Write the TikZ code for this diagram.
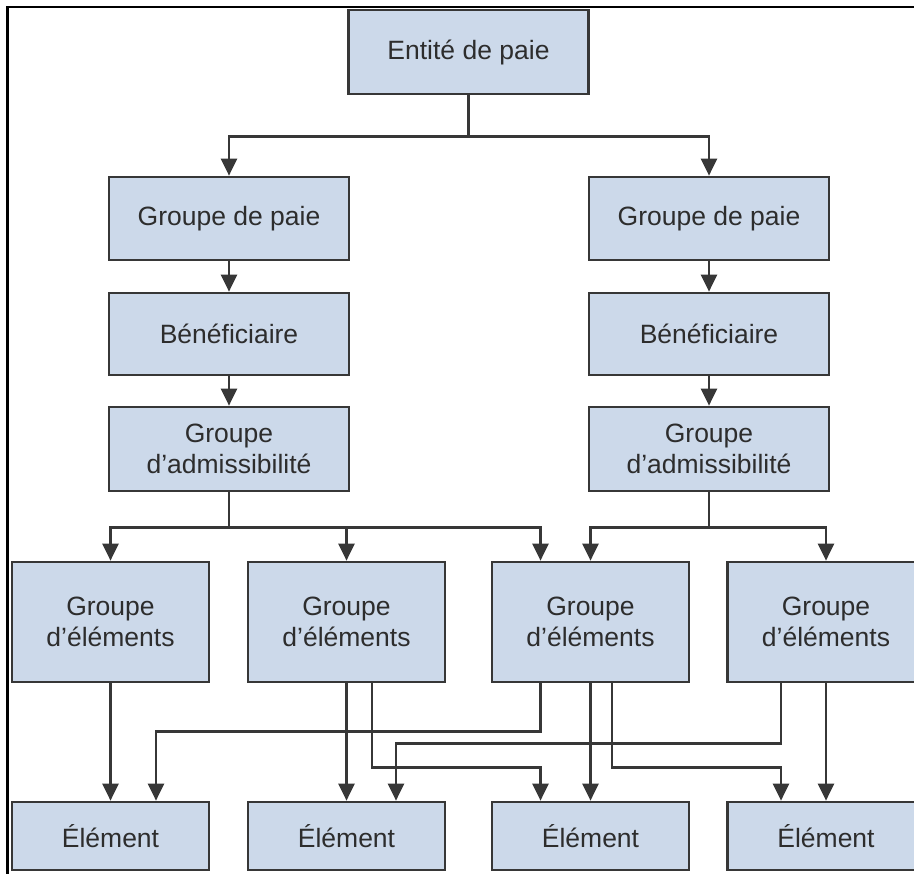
\documentclass[tikz,border=0pt]{standalone}
\usepackage{fontspec}
\setmainfont{Liberation Sans}
\usetikzlibrary{arrows.meta}
\definecolor{boxfill}{RGB}{204,217,234}
\definecolor{boxline}{RGB}{55,55,55}
\definecolor{txt}{RGB}{45,45,45}
\tikzset{
  box/.style={draw=boxline, fill=boxfill, line width=2.7pt, rectangle, inner sep=0pt,
    align=center, text=txt, font=\fontsize{26.5}{31.5}\selectfont},
  bigbox/.style={box, minimum width=240pt},
  smallbox/.style={box, minimum width=197pt},
  arr/.style={draw=boxline, line width=2.6pt, -{Triangle[length=17pt,width=16pt]}},
  ln/.style={draw=boxline, line width=2.6pt}
}
\begin{document}
\begin{tikzpicture}[x=1pt,y=-1pt]
\useasboundingbox (0,0) rectangle (914,874);
\clip (0,0) rectangle (914,874);
\fill[white] (0,0) rectangle (914,874);
\draw[black, line width=2.2pt] (7.5,880) -- (7.5,6.7) -- (920,6.7);

\node[bigbox, minimum height=84pt] (entite) at (468.5,52) {Entité de paie};
\node[bigbox, minimum height=83pt] (gp1) at (229,218.5) {Groupe de paie};
\node[bigbox, minimum height=83pt] (gp2) at (709,218.5) {Groupe de paie};
\node[bigbox, minimum height=82pt] (ben1) at (229,334) {Bénéficiaire};
\node[bigbox, minimum height=82pt] (ben2) at (709,334) {Bénéficiaire};
\node[bigbox, minimum height=84pt] (ad1) at (229,449) {Groupe\\d’admissibilité};
\node[bigbox, minimum height=84pt] (ad2) at (709,449) {Groupe\\d’admissibilité};

\node[smallbox, minimum height=120pt] (ge1) at (110.5,622) {Groupe\\d'éléments};
\node[smallbox, minimum height=120pt] (ge2) at (346.5,622) {Groupe\\d'éléments};
\node[smallbox, minimum height=120pt] (ge3) at (590.5,622) {Groupe\\d'éléments};
\node[smallbox, minimum height=120pt] (ge4) at (826,622) {Groupe\\d'éléments};

\node[smallbox, minimum height=68pt] (e1) at (110.5,836) {Élément};
\node[smallbox, minimum height=68pt] (e2) at (346.5,836) {Élément};
\node[smallbox, minimum height=68pt] (e3) at (590.5,836) {Élément};
\node[smallbox, minimum height=68pt] (e4) at (826,836) {Élément};

% top level
\draw[arr] (entite.south) -- ++(0,41) -| (gp1.north);
\draw[arr] (entite.south) -- ++(0,41) -| (gp2.north);
\draw[arr] (gp1) -- (ben1);
\draw[arr] (gp2) -- (ben2);
\draw[arr] (ben1) -- (ad1);
\draw[arr] (ben2) -- (ad2);

% admissibility to element groups
\draw[arr] (ad1.south) -- ++(0,35) -| (ge1.north);
\draw[arr] (ad1.south) -- ++(0,35) -| (ge2.north);
\draw[arr] (ad1.south) -- ++(0,35) -| ([xshift=-50pt]ge3.north);
\draw[arr] (ad2.south) -- ++(0,35) -| (ge3.north);
\draw[arr] (ad2.south) -- ++(0,35) -| (ge4.north);

% element groups to elements
\draw[arr] (ge1) -- (e1);
\draw[arr] (ge2) -- (e2);
\draw[arr] (ge3) -- (e3);
\draw[arr] (ge4) -- (e4);
\draw[arr] ([xshift=-50pt]ge3.south) -- ++(0,48) -| ([xshift=45.5pt]e1.north);
\draw[arr] ([xshift=-45pt]ge4.south) -- ++(0,60) -| ([xshift=49.5pt]e2.north);
\draw[arr] ([xshift=25.5pt]ge2.south) -- ++(0,84) -| ([xshift=-50pt]e3.north);
\draw[arr] ([xshift=21.5pt]ge3.south) -- ++(0,84) -| ([xshift=-45pt]e4.north);
\end{tikzpicture}
\end{document}
